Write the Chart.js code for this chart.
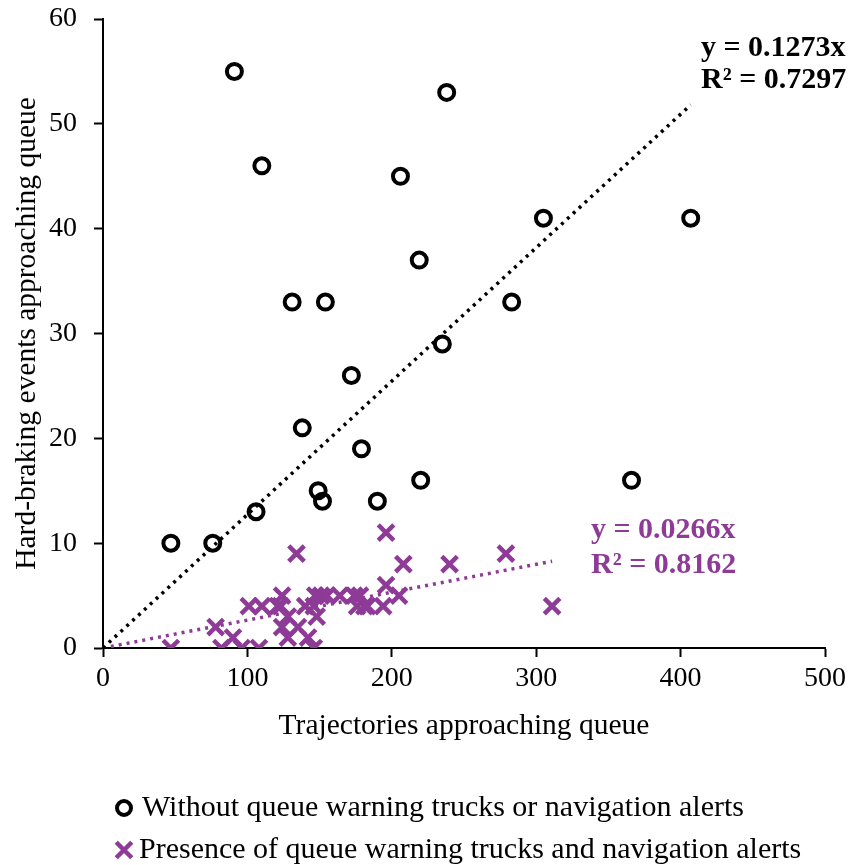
<!DOCTYPE html>
<html>
<head>
<meta charset="utf-8">
<script src="https://cdn.jsdelivr.net/npm/chart.js@4.4.0/dist/chart.umd.min.js"></script>
<style>
  html, body { margin: 0; padding: 0; background: #fff; }
  canvas { display: block; }
</style>
</head>
<body>
<canvas id="chart" width="851" height="865"></canvas>
<script>
// without queue warning trucks / navigation alerts
const withoutX = [47, 76, 106, 91, 110, 131, 154, 138, 149, 152, 172, 179, 190, 206, 219, 220, 235, 238, 283, 305, 366, 407];
const withoutY = [10, 10, 13, 55, 46, 33, 33, 21, 15, 14, 26, 19, 14, 45, 37, 16, 29, 53, 33, 41, 16, 41];

// presence of queue warning trucks and navigation alerts
const presenceX = [47, 78, 82, 90, 96, 108, 101, 110, 121, 124, 123, 128, 124, 128, 135, 134, 140, 142, 146, 147, 151, 148, 146, 155, 164, 174, 176, 181, 183, 178, 194, 196, 196, 205, 208, 240, 279, 311];
const presenceY = [0, 2, 0, 1, 0, 0, 4, 4, 4, 5, 4, 3, 2, 1, 2, 9, 4, 1, 0, 5, 5, 3, 4, 5, 5, 5, 4, 4, 4, 5, 4, 6, 11, 5, 8, 8, 9, 4];

// trendlines through origin
const slopeWithout = 0.1273;
const slopePresence = 0.0266;
const r2Without = 0.7297;
const r2Presence = 0.8162;

const xTicks = [0, 100, 200, 300, 400, 500];
const yTicks = [0, 10, 20, 30, 40, 50, 60];

const legendLabels = [
  "Without queue warning trucks or navigation alerts",
  "Presence of queue warning trucks and navigation alerts"
];

const PURPLE = "#8e3a97";
const FONT = "'Liberation Serif', 'Times New Roman', serif";

const toPoints = (xs, ys) => xs.map((x, i) => ({ x: x, y: ys[i] }));
const trend = (xs, slope) => {
  const xMax = Math.max(...xs);
  return [{ x: 0, y: 0 }, { x: xMax, y: slope * xMax }];
};

// trendline equations + bottom legend
const annotations = {
  id: "annotations",
  afterDraw(chart) {
    const ctx = chart.ctx;
    ctx.save();
    ctx.textBaseline = "alphabetic";
    ctx.textAlign = "left";

    ctx.font = "bold 30px " + FONT;
    ctx.fillStyle = "#000";
    ctx.fillText("y = " + slopeWithout + "x", 701, 56);
    ctx.fillText("R² = " + r2Without, 701, 88);

    ctx.fillStyle = PURPLE;
    ctx.fillText("y = " + slopePresence + "x", 591, 538);
    ctx.fillText("R² = " + r2Presence, 591, 573);

    // legend
    ctx.font = "30px " + FONT;
    ctx.textBaseline = "middle";
    const rows = [808, 850];

    ctx.lineWidth = 4;
    ctx.strokeStyle = "#000";
    ctx.fillStyle = "#fff";
    Chart.helpers.drawPoint(ctx, { pointStyle: "circle", radius: 7, borderWidth: 4, rotation: 0 }, 124, rows[0]);
    ctx.fillStyle = "#000";
    ctx.fillText(legendLabels[0], 142, rows[0]);

    ctx.strokeStyle = PURPLE;
    ctx.lineWidth = 4.5;
    Chart.helpers.drawPoint(ctx, { pointStyle: "crossRot", radius: 11, borderWidth: 4.5, rotation: 0 }, 124, rows[1]);
    ctx.fillStyle = "#000";
    ctx.fillText(legendLabels[1], 139, rows[1]);
    ctx.restore();
  }
};

new Chart(document.getElementById("chart"), {
  type: "scatter",
  data: {
    datasets: [
      {
        label: "trend without",
        type: "line",
        data: trend(withoutX, slopeWithout),
        borderColor: "#000",
        borderWidth: 3.5,
        borderDash: [3, 5],
        pointRadius: 0,
        fill: false,
        order: 3
      },
      {
        label: "trend presence",
        type: "line",
        data: trend(presenceX, slopePresence),
        borderColor: PURPLE,
        borderWidth: 3.5,
        borderDash: [3, 5],
        pointRadius: 0,
        fill: false,
        order: 4
      },
      {
        label: legendLabels[0],
        data: toPoints(withoutX, withoutY),
        pointStyle: "circle",
        pointRadius: 7.5,
        pointBorderWidth: 4,
        pointBackgroundColor: "rgba(255,255,255,0)",
        pointBorderColor: "#000",
        order: 1
      },
      {
        label: legendLabels[1],
        data: toPoints(presenceX, presenceY),
        pointStyle: "crossRot",
        pointRadius: 11,
        pointBorderWidth: 4.5,
        pointBorderColor: PURPLE,
        pointBackgroundColor: PURPLE,
        order: 2
      }
    ]
  },
  options: {
    responsive: false,
    animation: false,
    devicePixelRatio: 1,
    layout: { padding: { left: 0, right: 26, top: 19, bottom: 121 } },
    plugins: {
      legend: { display: false },
      tooltip: { enabled: false }
    },
    scales: {
      x: {
        type: "linear",
        min: 0,
        max: 500,
        afterBuildTicks: (scale) => { scale.ticks = xTicks.map(v => ({ value: v })); },
        afterFit: (scale) => { scale.height = 96; scale.paddingLeft = 0; scale.paddingRight = 0; },
        grid: { drawOnChartArea: false, drawTicks: true, tickLength: 9, tickWidth: 2, tickColor: "#000" },
        border: { display: true, color: "#000", width: 2 },
        ticks: { color: "#000", font: { family: FONT, size: 28 }, padding: 5, maxRotation: 0 },
        title: {
          display: true,
          text: "Trajectories approaching queue",
          color: "#000",
          font: { family: FONT, size: 29.5 },
          padding: { top: 0, bottom: 0 }
        }
      },
      y: {
        type: "linear",
        min: 0,
        max: 60,
        afterBuildTicks: (scale) => { scale.ticks = yTicks.map(v => ({ value: v })); },
        afterFit: (scale) => { scale.width = 103; scale.paddingTop = 0; scale.paddingBottom = 0; },
        grid: { drawOnChartArea: false, drawTicks: true, tickLength: 9, tickWidth: 2, tickColor: "#000" },
        border: { display: true, color: "#000", width: 2 },
        ticks: { color: "#000", font: { family: FONT, size: 28 }, padding: 17 },
        title: {
          display: true,
          text: "Hard-braking events approaching queue",
          color: "#000",
          font: { family: FONT, size: 29.5 },
          padding: { top: 10, bottom: 0 }
        }
      }
    }
  },
  plugins: [annotations]
});
</script>
</body>
</html>
